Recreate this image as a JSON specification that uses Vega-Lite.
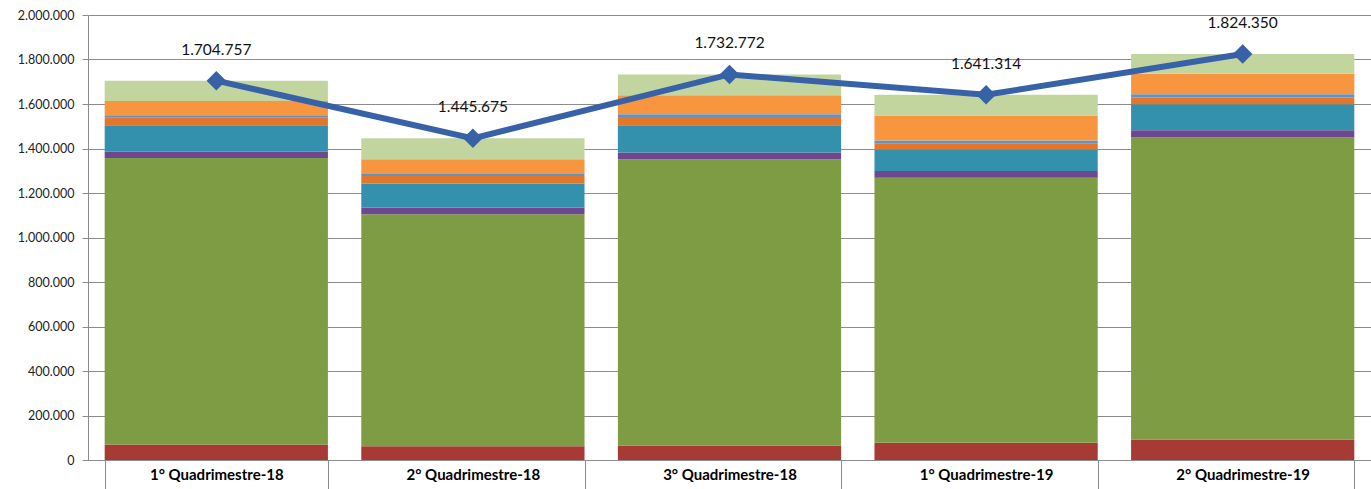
{
  "$schema": "https://vega.github.io/schema/vega-lite/v6.json",
  "width": 1283,
  "height": 445,
  "autosize": "none",
  "padding": {"left": 88, "top": 15, "right": 0, "bottom": 29},
  "config": {
    "locale": {"number": {"decimal": ",", "thousands": ".", "grouping": [3], "currency": ["", ""]}},
    "view": {"stroke": null},
    "font": "Lato"
  },
  "datasets": {
    "partes": [
      {"periodo": "1° Quadrimestre-18", "serie": "S1", "ordem": 1, "valor": 70000},
      {"periodo": "1° Quadrimestre-18", "serie": "S2", "ordem": 2, "valor": 1287000},
      {"periodo": "1° Quadrimestre-18", "serie": "S3", "ordem": 3, "valor": 28000},
      {"periodo": "1° Quadrimestre-18", "serie": "S4", "ordem": 4, "valor": 120000},
      {"periodo": "1° Quadrimestre-18", "serie": "S5", "ordem": 5, "valor": 36000},
      {"periodo": "1° Quadrimestre-18", "serie": "S6", "ordem": 6, "valor": 8000},
      {"periodo": "1° Quadrimestre-18", "serie": "S7", "ordem": 7, "valor": 65000},
      {"periodo": "1° Quadrimestre-18", "serie": "S8", "ordem": 8, "valor": 90757},
      {"periodo": "2° Quadrimestre-18", "serie": "S1", "ordem": 1, "valor": 62000},
      {"periodo": "2° Quadrimestre-18", "serie": "S2", "ordem": 2, "valor": 1043000},
      {"periodo": "2° Quadrimestre-18", "serie": "S3", "ordem": 3, "valor": 30000},
      {"periodo": "2° Quadrimestre-18", "serie": "S4", "ordem": 4, "valor": 108000},
      {"periodo": "2° Quadrimestre-18", "serie": "S5", "ordem": 5, "valor": 33000},
      {"periodo": "2° Quadrimestre-18", "serie": "S6", "ordem": 6, "valor": 9000},
      {"periodo": "2° Quadrimestre-18", "serie": "S7", "ordem": 7, "valor": 67000},
      {"periodo": "2° Quadrimestre-18", "serie": "S8", "ordem": 8, "valor": 93675},
      {"periodo": "3° Quadrimestre-18", "serie": "S1", "ordem": 1, "valor": 65000},
      {"periodo": "3° Quadrimestre-18", "serie": "S2", "ordem": 2, "valor": 1287000},
      {"periodo": "3° Quadrimestre-18", "serie": "S3", "ordem": 3, "valor": 30000},
      {"periodo": "3° Quadrimestre-18", "serie": "S4", "ordem": 4, "valor": 123000},
      {"periodo": "3° Quadrimestre-18", "serie": "S5", "ordem": 5, "valor": 37000},
      {"periodo": "3° Quadrimestre-18", "serie": "S6", "ordem": 6, "valor": 12000},
      {"periodo": "3° Quadrimestre-18", "serie": "S7", "ordem": 7, "valor": 85000},
      {"periodo": "3° Quadrimestre-18", "serie": "S8", "ordem": 8, "valor": 93772},
      {"periodo": "1° Quadrimestre-19", "serie": "S1", "ordem": 1, "valor": 77000},
      {"periodo": "1° Quadrimestre-19", "serie": "S2", "ordem": 2, "valor": 1192000},
      {"periodo": "1° Quadrimestre-19", "serie": "S3", "ordem": 3, "valor": 30000},
      {"periodo": "1° Quadrimestre-19", "serie": "S4", "ordem": 4, "valor": 97000},
      {"periodo": "1° Quadrimestre-19", "serie": "S5", "ordem": 5, "valor": 25000},
      {"periodo": "1° Quadrimestre-19", "serie": "S6", "ordem": 6, "valor": 15000},
      {"periodo": "1° Quadrimestre-19", "serie": "S7", "ordem": 7, "valor": 112000},
      {"periodo": "1° Quadrimestre-19", "serie": "S8", "ordem": 8, "valor": 93314},
      {"periodo": "2° Quadrimestre-19", "serie": "S1", "ordem": 1, "valor": 92000},
      {"periodo": "2° Quadrimestre-19", "serie": "S2", "ordem": 2, "valor": 1357000},
      {"periodo": "2° Quadrimestre-19", "serie": "S3", "ordem": 3, "valor": 33000},
      {"periodo": "2° Quadrimestre-19", "serie": "S4", "ordem": 4, "valor": 117000},
      {"periodo": "2° Quadrimestre-19", "serie": "S5", "ordem": 5, "valor": 30000},
      {"periodo": "2° Quadrimestre-19", "serie": "S6", "ordem": 6, "valor": 15000},
      {"periodo": "2° Quadrimestre-19", "serie": "S7", "ordem": 7, "valor": 92000},
      {"periodo": "2° Quadrimestre-19", "serie": "S8", "ordem": 8, "valor": 88350}
    ],
    "totais": [
      {"periodo": "1° Quadrimestre-18", "valor": 1704757},
      {"periodo": "2° Quadrimestre-18", "valor": 1445675},
      {"periodo": "3° Quadrimestre-18", "valor": 1732772},
      {"periodo": "1° Quadrimestre-19", "valor": 1641314},
      {"periodo": "2° Quadrimestre-19", "valor": 1824350}
    ]
  },
  "encoding": {
    "x": {
      "field": "periodo",
      "type": "nominal",
      "sort": ["1° Quadrimestre-18", "2° Quadrimestre-18", "3° Quadrimestre-18", "1° Quadrimestre-19", "2° Quadrimestre-19"],
      "scale": {"paddingInner": 0.13, "paddingOuter": 0.065},
      "axis": {
        "title": null,
        "labelAngle": 0,
        "labelFont": "Lato",
        "labelFontSize": 15,
        "labelFontWeight": "bold",
        "labelColor": "#000000",
        "domainColor": "#8c8c8c",
        "tickColor": "#8c8c8c",
        "tickSize": 30,
        "tickBand": "extent",
        "labelPadding": -23
      }
    },
    "y": {
      "field": "valor",
      "type": "quantitative",
      "scale": {"domain": [0, 2000000], "nice": false},
      "axis": {
        "title": null,
        "values": [0, 200000, 400000, 600000, 800000, 1000000, 1200000, 1400000, 1600000, 1800000, 2000000],
        "format": ",.0f",
        "grid": true,
        "gridColor": "#8c8c8c",
        "gridWidth": 1,
        "domainColor": "#8c8c8c",
        "tickColor": "#8c8c8c",
        "tickSize": 6,
        "labelPadding": 8,
        "labelFont": "Lato",
        "labelFontSize": 12.5,
        "labelColor": "#222222",
        "labelOverlap": false,
        "labelBound": false
      }
    }
  },
  "layer": [
    {
      "data": {"name": "partes"},
      "mark": {"type": "bar"},
      "encoding": {
        "y": {"field": "valor", "type": "quantitative", "stack": "zero"},
        "color": {
          "field": "serie",
          "type": "nominal",
          "scale": {
            "domain": ["S1", "S2", "S3", "S4", "S5", "S6", "S7", "S8"],
            "range": ["#A83A36", "#7E9C44", "#6F4690", "#3391AE", "#E2772B", "#5A93D0", "#F7963F", "#C3D59F"]
          },
          "legend": null
        },
        "order": {"field": "ordem", "type": "quantitative"}
      }
    },
    {
      "data": {"name": "totais"},
      "mark": {"type": "line", "color": "#3762A8", "strokeWidth": 6}
    },
    {
      "data": {"name": "totais"},
      "mark": {"type": "point", "shape": "diamond", "filled": true, "size": 380, "color": "#3762A8", "opacity": 1}
    },
    {
      "data": {"name": "totais"},
      "mark": {"type": "text", "dy": -31, "fontSize": 15.5, "font": "Lato", "color": "#111111", "baseline": "middle"},
      "encoding": {
        "text": {"field": "valor", "type": "quantitative", "format": ",.0f"}
      }
    }
  ]
}
